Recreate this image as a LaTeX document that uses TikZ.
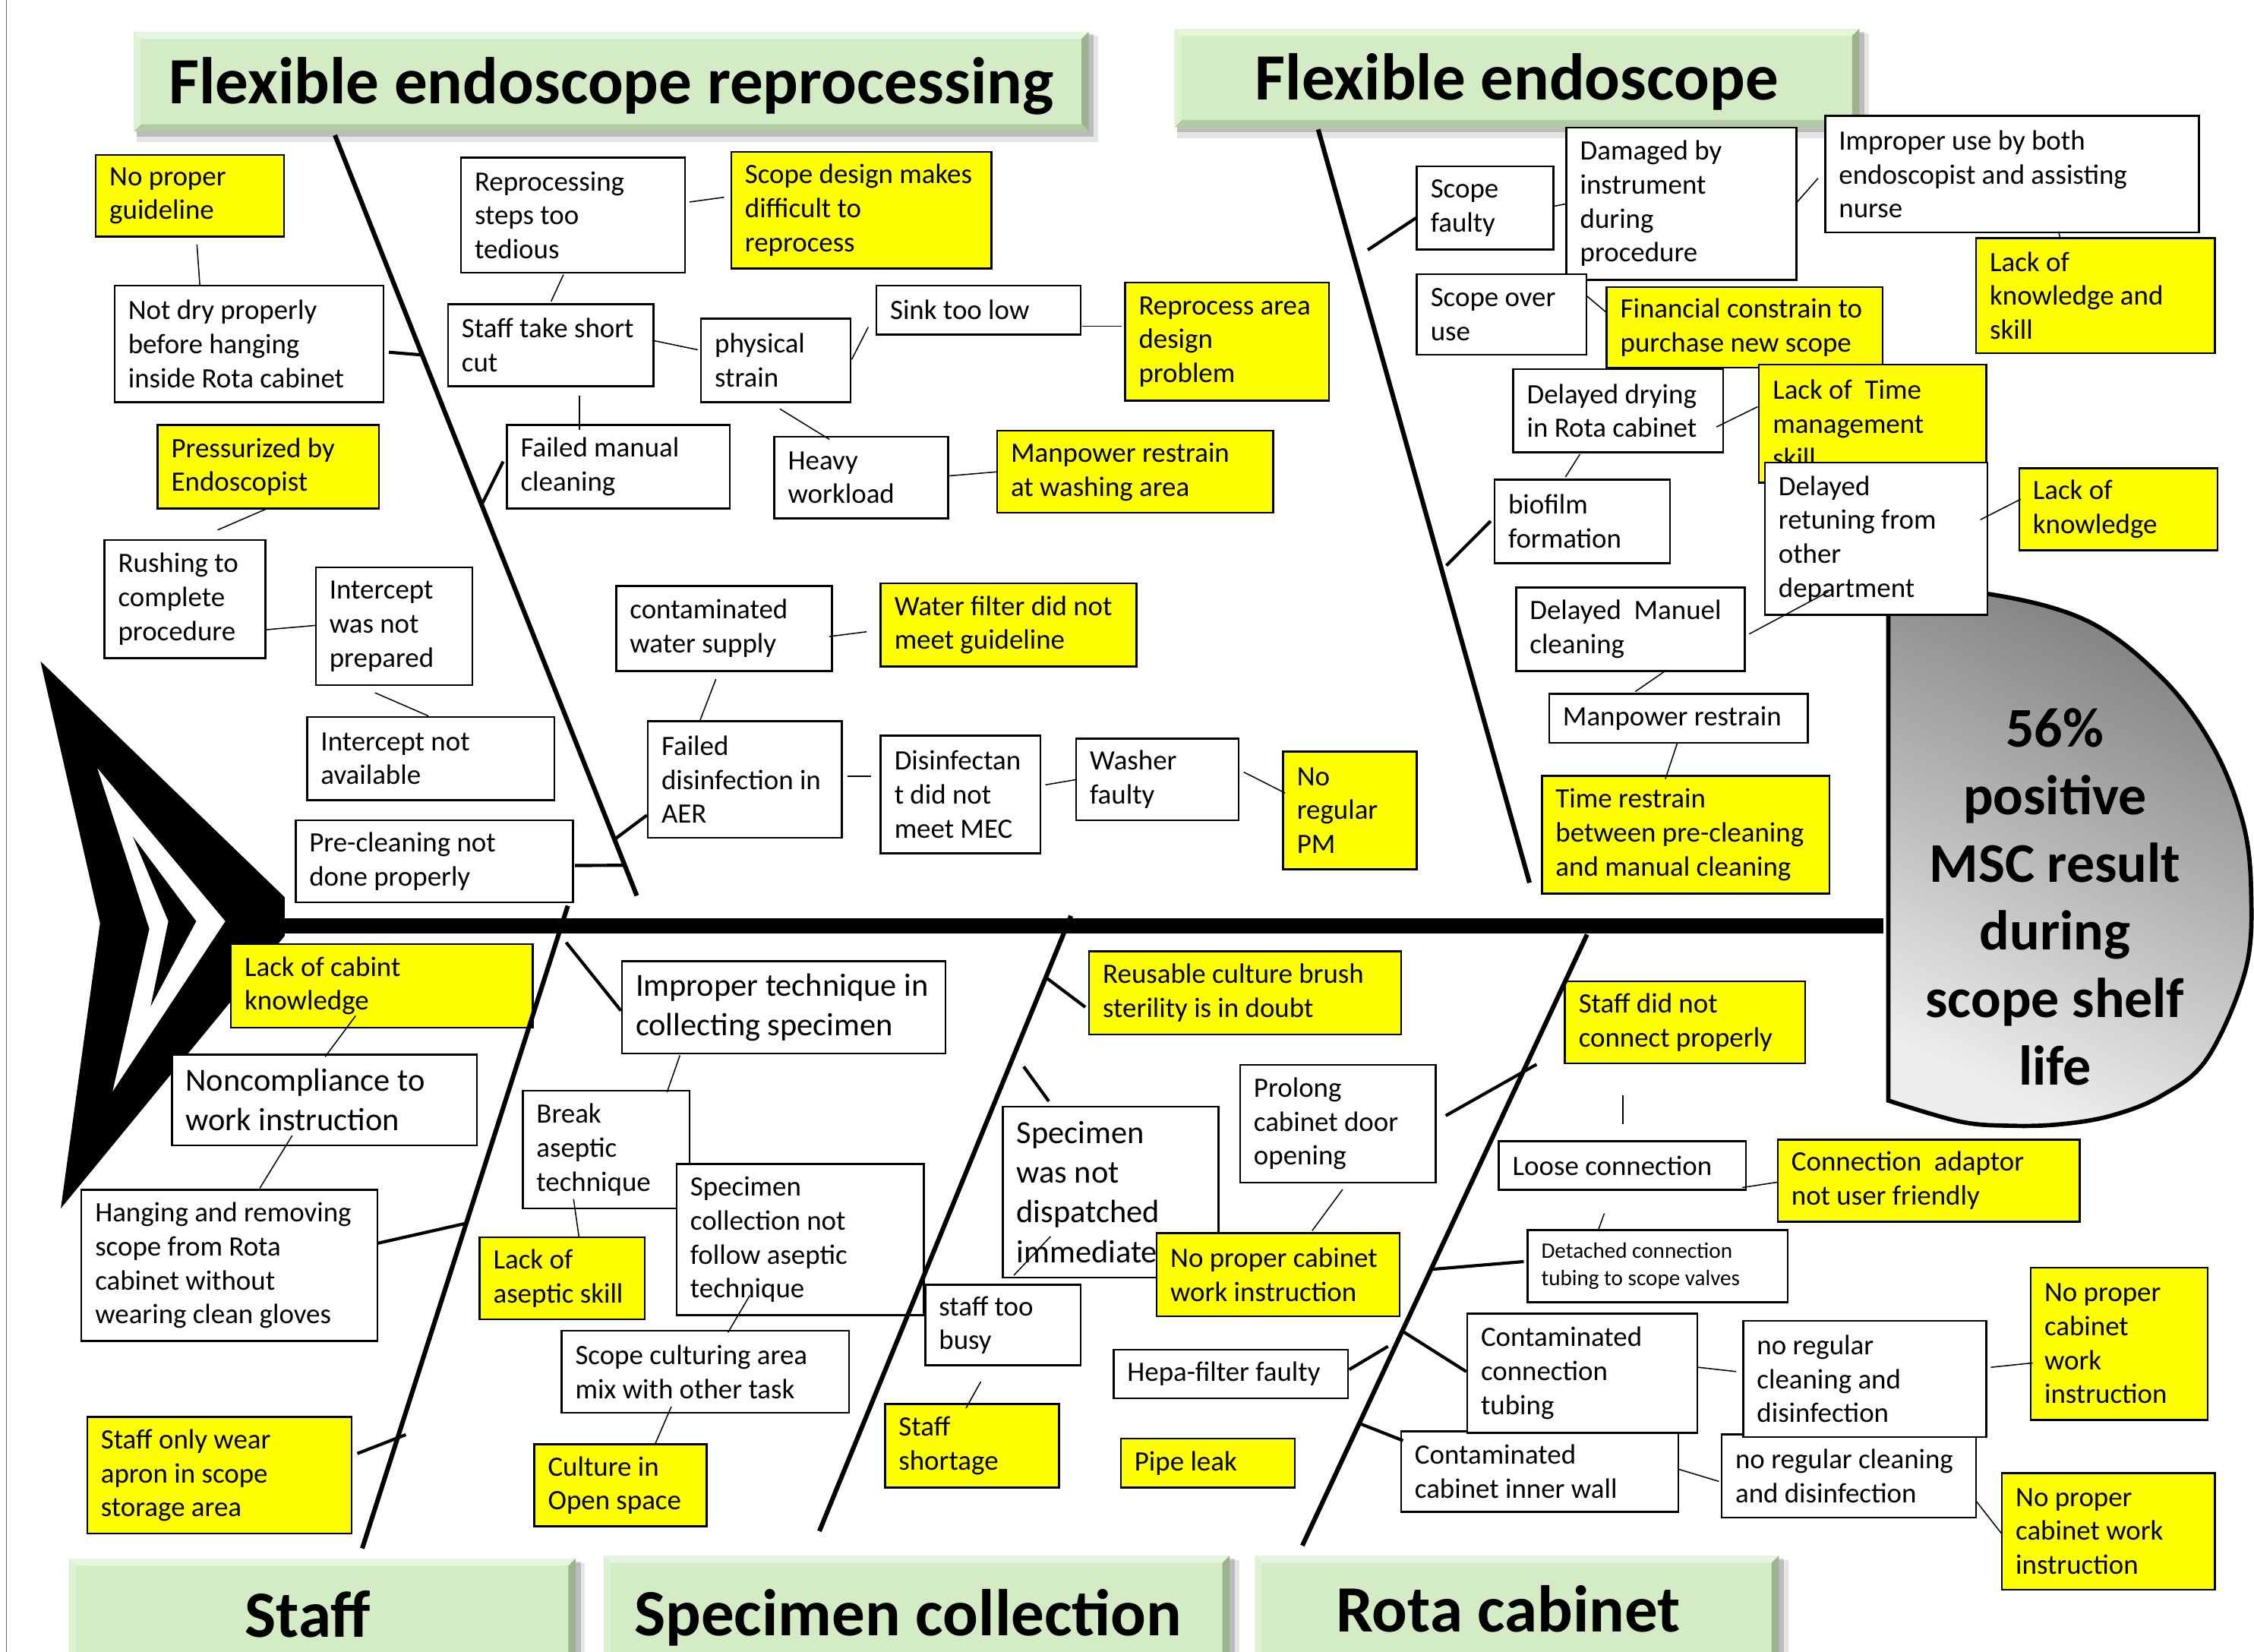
\documentclass[tikz,border=0pt]{standalone}
\usepackage{fontspec}
\setmainfont{Carlito}
\usetikzlibrary{calc}
\definecolor{hgreen}{HTML}{D3ECC5}
\definecolor{hlight}{HTML}{E6F5DD}
\definecolor{hdark}{HTML}{9DB38F}
\definecolor{hbot}{HTML}{B3CBA5}
\definecolor{yel}{HTML}{FFFF00}
\newcommand\fb{\fontsize{19.5}{23.6}\selectfont}
\newcommand\fl{\fontsize{22.4}{27.5}\selectfont}
\newcommand\fsm{\fontsize{15.4}{18.8}\selectfont}
\newcommand\fh{\bfseries\fontsize{46}{55}\selectfont}
\newcommand\fc{\bfseries\fontsize{39}{47}\selectfont}
% box: [font]{style}{name}{x1}{y1}{x2}{y2}{text}
\newcommand\bx[8][\fb]{%
  \pgfmathsetmacro\bw{#6-#4}%
  \pgfmathsetmacro\bh{#7-#5}%
  \node[#2, anchor=north west, minimum width=\bw pt, minimum height=\bh pt] (#3) at (#4,#5) {};
  \node[anchor=west, align=left, inner sep=0pt, font=#1] (#3t) at ([xshift=10pt]#3.west) {#8};}
% header: {name}{x1}{y1}{x2}{y2}{dx}{text}
\newcommand\hdr[7]{%
  \pgfmathsetmacro\bw{#4-#2}%
  \pgfmathsetmacro\bh{#5-#3}%
  \fill[black,opacity=0.10] (#2+2,#3+3) rectangle (#4+7,#5+8);
  \fill[black,opacity=0.18] (#2+2,#3+2) rectangle (#4+4,#5+4);
  \node[fill=hgreen, anchor=north west, minimum width=\bw pt, minimum height=\bh pt, inner sep=0pt] (#1) at (#2,#3) {};
  \fill[hlight] (#1.north west) -- (#1.north east) -- ([shift={(-5,5)}]#1.north east) -- ([shift={(5,5)}]#1.north west) -- cycle;
  \fill[hdark] (#1.north east) -- (#1.south east) -- ([shift={(-5,-5)}]#1.south east) -- ([shift={(-5,5)}]#1.north east) -- cycle;
  \fill[hbot] (#1.south west) -- (#1.south east) -- ([shift={(-5,-5)}]#1.south east) -- ([shift={(5,-5)}]#1.south west) -- cycle;
  \fill[hlight!60!hgreen] (#1.north west) -- (#1.south west) -- ([shift={(5,-5)}]#1.south west) -- ([shift={(5,5)}]#1.north west) -- cycle;
  \node[font=\fh, text height=31pt, text depth=0pt, inner sep=0pt] (#1t) at ([xshift=#6pt]#1.center) {#7};}
\newcommand\cn[4]{\draw[conn] ([shift={(#2)}]#1.north west) -- ([shift={(#4)}]#3.north west);}
\tikzset{
  wbox/.style={draw=black, fill=white, line width=1.3pt, inner sep=0pt},
  ybox/.style={draw=black, fill=yel, line width=1.3pt, inner sep=0pt},
  conn/.style={line width=0.8pt},
  stub/.style={line width=2.2pt},
  bone/.style={line width=3.2pt}
}
\begin{document}
\begin{tikzpicture}[x=1pt,y=-1pt]
\useasboundingbox (0,0) rectangle (1568,1149);
\clip (0,0) rectangle (1568,1149);
\draw[black!60, line width=1pt] (4.5,0) -- (4.5,1149);

% headers
\hdr{h1}{93}{22}{757}{91}{0}{Flexible endoscope reprocessing}
\hdr{h2}{817}{20}{1293}{88}{0}{Flexible endoscope}
\hdr{h3}{48}{1084}{400}{1162}{-10}{Staff}
\hdr{h4}{420}{1082}{855}{1162}{-6}{Specimen collection}
\hdr{h5}{873}{1082}{1237}{1157}{-6}{Rota cabinet}

% head (effect)
\path[draw, line width=3pt, top color=black!50, bottom color=black!7, shading angle=-25]
  plot[smooth, tension=0.6] coordinates {(1313.6,410.2) (1380.5,412.7) (1451,431.4) (1503.8,471.3) (1539,518.6) (1560,571) (1566,620) (1562,675) (1535.5,736) (1503.8,762) (1468.6,776) (1433,782) (1398,783) (1363,780) (1313.6,765.5)} -- cycle;
\node[font=\fc, align=center] (effect) at (1429.5,624) {56\%\\positive\\MSC result\\during\\scope shelf\\life};

% tail
\fill (28.2,460) -- (198,624) -- (198,651) -- (42.3,840.5) -- (69.6,642) -- cycle;
\fill[white] (67.8,534.4) -- (156.7,640.8) -- (78.4,759) -- (103.9,646) -- cycle;
\fill (92.4,581.8) -- (136.5,640.8) -- (104.8,700) -- (117.1,640.8) -- cycle;

% spine
\coordinate (tailR) at (195,644);
\coordinate (headL) at (1310,644);
\draw[line width=10.5pt] (tailR) -- (headL);

% upper left
\bx{ybox}{b1}{66}{107}{197}{164}{No proper\\guideline}
\bx{wbox}{b2}{79}{198}{266}{279}{Not dry properly\\before hanging\\inside Rota cabinet}
\bx{ybox}{b3}{109}{295}{263}{353}{Pressurized by\\Endoscopist}
\bx{wbox}{b4}{72}{375}{184}{457}{Rushing to\\complete\\procedure}
\bx{wbox}{b5}{219}{394}{328}{476}{Intercept\\was not\\prepared}
\bx{wbox}{b6}{213}{498}{385}{556}{Intercept not\\available}
\bx{wbox}{b7}{205}{570}{398}{627}{Pre-cleaning not\\done properly}
\bx{wbox}{b8}{320}{109}{476}{189}{Reprocessing\\steps too\\tedious}
\bx{ybox}{b9}{508}{105}{689}{186}{Scope design makes\\difficult to\\reprocess}
\bx{wbox}{b10}{311}{211}{454}{268}{Staff take short\\cut}
\bx{wbox}{b11}{487}{221}{591}{279}{physical\\strain}
\bx{wbox}{b12}{609}{198}{751}{232}{Sink too low}
\bx{ybox}{b13}{782}{196}{924}{278}{Reprocess area\\design\\problem}
\bx{wbox}{b14}{352}{295}{507}{353}{Failed manual\\cleaning}
\bx{wbox}{b15}{538}{303}{659}{360}{Heavy\\workload}
\bx{ybox}{b16}{693}{299}{885}{356}{Manpower restrain\\at washing area}
\bx{wbox}{b17}{428}{407}{578}{466}{contaminated\\water supply}
\bx{ybox}{b18}{612}{405}{790}{463}{Water filter did not\\meet guideline}
\bx{wbox}{b19}{450}{501}{585}{582}{Failed\\disinfection in\\AER}
\bx{wbox}{b20}{612}{511}{723}{593}{Disinfectan\\t did not\\meet MEC}
\bx{wbox}{b21}{748}{513}{861}{570}{Washer\\faulty}
\bx{ybox}{b22}{892}{522}{985}{604}{No\\regular\\PM}

% upper right
\bx{wbox}{b23}{985}{115}{1080}{173}{Scope\\faulty}
\bx{wbox}{b24}{1089}{88}{1249}{194}{Damaged by\\instrument\\during\\procedure}
\bx{wbox}{b25}{1269}{80}{1529}{161}{Improper use by both\\endoscopist and assisting\\nurse}
\bx{wbox}{b26}{985}{190}{1103}{246}{Scope over\\use}
\bx{ybox}{b27}{1117}{199}{1309}{255}{Financial constrain to\\purchase new scope}
\bx{ybox}{b28}{1374}{165}{1540}{245}{Lack of\\knowledge and\\skill}
\bx{wbox}{b29}{1052}{256}{1198}{314}{Delayed drying\\in Rota cabinet}
\bx{ybox}{b30}{1223}{253}{1381}{335}{Lack of\ \ Time\\management\\skill}
\bx{wbox}{b31}{1227}{321}{1382}{427}{Delayed\\retuning from\\other\\department}
\bx{ybox}{b32}{1404}{325}{1542}{382}{Lack of\\knowledge}
\bx{wbox}{b33}{1039}{333}{1161}{391}{biofilm\\formation}
\bx{wbox}{b34}{1054}{408}{1213}{466}{Delayed\ \ Manuel\\cleaning}
\bx{wbox}{b35}{1077}{482}{1257}{516}{Manpower restrain}
\bx{ybox}{b36}{1072}{539}{1272}{621}{Time restrain\\between pre-cleaning\\and manual cleaning}

% lower left / middle
\bx{ybox}{b37}{160}{656}{370}{714}{Lack of cabint\\knowledge}
\bx[\fl]{wbox}{b38}{119}{733}{331}{796}{Noncompliance to\\work instruction}
\bx{wbox}{b39}{56}{827}{262}{932}{Hanging and removing\\scope from Rota\\cabinet without\\wearing clean gloves}
\bx{ybox}{b40}{60}{985}{244}{1066}{Staff only wear\\apron in scope\\storage area}
\bx[\fl]{wbox}{b41}{432}{668}{657}{732}{Improper technique in\\collecting specimen}
\bx{wbox}{b42}{363}{758}{479}{840}{Break\\aseptic\\technique}
\bx{wbox}{b43}{470}{809}{642}{914}{Specimen\\collection not\\follow aseptic\\technique}
\bx{ybox}{b44}{333}{860}{448}{917}{Lack of\\aseptic skill}
\bx{wbox}{b45}{390}{925}{590}{982}{Scope culturing area\\mix with other task}
\bx{ybox}{b46}{371}{1004}{491}{1061}{Culture in\\Open space}
\bx{ybox}{b47}{757}{661}{974}{719}{Reusable culture brush\\sterility is in doubt}
\bx[\fl]{wbox}{b48}{697}{769}{847}{888}{Specimen\\was not\\dispatched\\immediate}
\bx{wbox}{b49}{643}{893}{751}{949}{staff too\\busy}
\bx{ybox}{b50}{615}{976}{736}{1034}{Staff\\shortage}
\bx{wbox}{b51}{862}{740}{998}{822}{Prolong\\cabinet door\\opening}
\bx{ybox}{b52}{804}{857}{973}{915}{No proper cabinet\\work instruction}
\bx{wbox}{b53}{774}{938}{937}{972}{Hepa-filter faulty}
\bx{ybox}{b54}{779}{1000}{900}{1034}{Pipe leak}

% lower right
\bx{ybox}{b55}{1088}{682}{1255}{739}{Staff did not\\connect properly}
\bx{wbox}{b56}{1042}{793}{1214}{827}{Loose connection}
\bx{ybox}{b57}{1236}{792}{1446}{849}{Connection\ \ adaptor\\not user friendly}
\bx[\fsm]{wbox}{b58}{1062}{855}{1243}{905}{Detached connection\\tubing to scope valves}
\bx{wbox}{b62}{974}{995}{1167}{1051}{Contaminated\\cabinet inner wall}
\bx{wbox}{b59}{1020}{913}{1180}{996}{Contaminated\\connection\\tubing}
\bx{wbox}{b63}{1197}{997}{1374}{1055}{no regular cleaning\\and disinfection}
\bx{wbox}{b60}{1212}{918}{1381}{999}{no regular\\cleaning and\\disinfection}
\bx{ybox}{b61}{1412}{881}{1535}{987}{No proper\\cabinet\\work\\instruction}
\bx{ybox}{b64}{1392}{1024}{1540}{1105}{No proper\\cabinet work\\instruction}

% bones
\coordinate (a1) at ([shift={(140,72)}]h1.north west);
\coordinate (a2) at (443,623);
\coordinate (bb1) at ([shift={(100,70)}]h2.north west);
\coordinate (bb2) at (1064,614);
\coordinate (c1) at (395,630);
\coordinate (c2) at ([shift={(204,-7)}]h3.north west);
\coordinate (d1) at (745,637);
\coordinate (d2) at ([shift={(150,-17)}]h4.north west);
\coordinate (e1) at (1104,650);
\coordinate (e2) at ([shift={(33,-7)}]h5.north west);
\draw[bone] (a1) -- (a2);
\draw[bone] (bb1) -- (bb2);
\draw[bone] (c1) -- (c2);
\draw[bone] (d1) -- (d2);
\draw[bone] (e1) -- (e2);

% stubs from boxes to bones
\draw[stub] ([shift={(191.5,47)}]b2.north west) -- ($(a1)!0.289!(a2)$);
\draw[stub] ([shift={(-2,26)}]b14.north west) -- ($(a1)!0.486!(a2)$);
\draw[stub] ([shift={(0,66)}]b19.north west) -- ($(a1)!0.926!(a2)$);
\draw[stub] ([shift={(195,32)}]b7.north west) -- ($(a1)!0.96!(a2)$);
\draw[stub] ([shift={(0,36.6)}]b23.north west) -- ($(bb1)!0.16!(bb2)+(11,0)$);
\draw[stub] ([shift={(-2,29.4)}]b33.north west) -- ($(bb1)!0.579!(bb2)+(4,0)$);
\draw[stub] ([shift={(206.5,37.8)}]b39.north west) -- ($(c1)!0.494!(c2)$);
\draw[stub] ([shift={(188.6,26)}]b40.north west) -- ($(c1)!0.823!(c2)+(5,0)$);
\draw[stub] ([shift={(0,35)}]b41.north west) -- ($(c1)!0.057!(c2)+(7,0)$);
\draw[stub] ([shift={(-2,39.5)}]b47.north west) -- ($(d1)!0.1!(d2)$);
\draw[stub] ([shift={(32.6,-3)}]b48.north west) -- ($(d1)!0.245!(d2)+(10,0)$);
\draw[stub] ([shift={(143.7,36)}]b51.north west) -- ($(e1)!0.2125!(e2)+(7,0)$);
\draw[stub] ([shift={(-2,22.5)}]b58.north west) -- ($(e1)!0.548!(e2)$);
\draw[stub] ([shift={(164.6,14.6)}]b53.north west) -- ($(e1)!0.674!(e2)+(-5,0)$);
\draw[stub] ([shift={(0,41)}]b59.north west) -- ($(e1)!0.649!(e2)$);
\draw[stub] ([shift={(2,7)}]b62.north west) -- ($(e1)!0.8!(e2)$);

% thin connectors between boxes
\cn{b1}{71,63}{b2}{60,0}
\cn{b3}{76.7,58.8}{b4}{79.4,-6.4}
\cn{b4}{113,63}{b5}{0.5,41}
\cn{b5}{41.8,87.8}{b6}{85,0}
\cn{b8}{159.7,31.5}{b9}{-4.3,32.2}
\cn{b8}{72,82}{b10}{72.4,-1.4}
\cn{b10}{142.7,25.7}{b11}{-1.6,22.3}
\cn{b11}{105.5,29}{b12}{-5,29.5}
\cn{b12}{144,29}{b13}{-1.5,31}
\cn{b10}{92,64}{b14}{51,4}
\cn{b11}{55.5,63.4}{b15}{39,2.6}
\cn{b15}{122,28}{b16}{0.4,29.2}
\cn{b17}{149,35.7}{b18}{-9.1,34.4}
\cn{b17}{70,65.4}{b19}{37,0}
\cn{b19}{139.6,38.8}{b20}{-6.3,28.8}
\cn{b20}{115.2,34.9}{b21}{1,29.2}
\cn{b21}{117.2,24}{b22}{2,29.6}
\cn{b23}{95.3,28.6}{b24}{0.2,53.8}
\cn{b24}{161,52.7}{b25}{-4.3,44}
\cn{b25}{163,81}{b28}{59,0}
\cn{b26}{119,16}{b27}{0,17.9}
\cn{b29}{142,41}{b30}{-0.3,29.9}
\cn{b29}{47,60}{b33}{50,-1.2}
\cn{b31}{150.6,40.5}{b32}{1.7,22.2}
\cn{b34}{162.8,33}{b31}{45,90.5}
\cn{b34}{105.4,58}{b35}{60.6,-1}
\cn{b35}{89.8,34.8}{b36}{86.5,2.8}
\cn{b37}{87.4,50.5}{b38}{107.2,2}
\cn{b38}{84.2,56.9}{b39}{124.7,-0.5}
\cn{b41}{41,66}{b42}{101,1.7}
\cn{b42}{36,76}{b44}{69.7,0}
\cn{b43}{51.6,92}{b45}{116.4,1.8}
\cn{b45}{77,53.4}{b46}{85,-0.2}
\cn{b48}{33.8,91}{b49}{62.3,-6}
\cn{b49}{39.3,68}{b50}{57,3.4}
\cn{b51}{72,87.3}{b52}{108.8,-1}
\cn{b55}{41,80}{b56}{87,-11}
\cn{b56}{170,33}{b57}{0.8,30.2}
\cn{b56}{74,51}{b58}{49.6,1.2}
\cn{b59}{161.2,38}{b60}{-4.3,36}
\cn{b60}{173,33}{b61}{2,67}
\cn{b62}{194,27}{b63}{-1.2,33.4}
\cn{b63}{177.4,46.7}{b64}{0.3,42.6}
\end{tikzpicture}
\end{document}
